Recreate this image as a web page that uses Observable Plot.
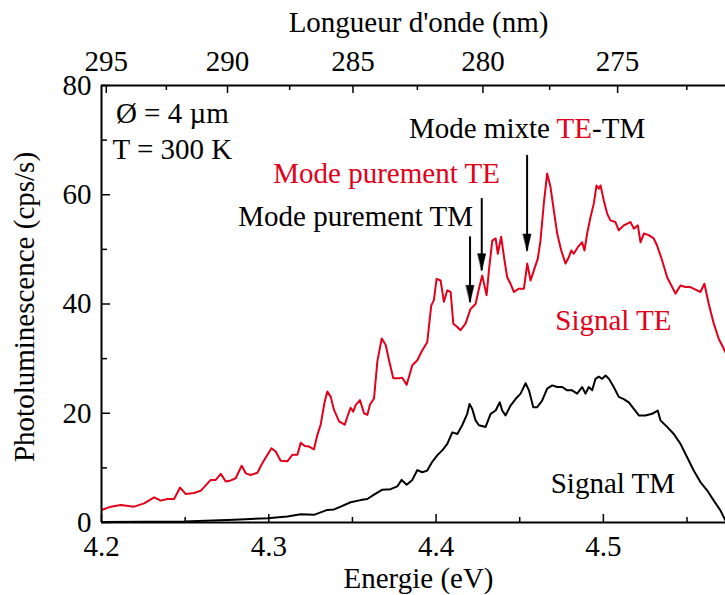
<!DOCTYPE html>
<html><head><meta charset="utf-8">
<script src="https://cdn.jsdelivr.net/npm/d3@7"></script>
<script src="https://cdn.jsdelivr.net/npm/@observablehq/plot@0.6"></script>
<style>body{margin:0;background:#fff}</style>
</head><body><div id="chart"></div>
<script>
// ---- data ----
const teEnergy = [4.2000,4.2056,4.2115,4.2195,4.2255,4.2315,4.2354,4.2394,4.2434,4.2470,4.2504,4.2554,4.2593,4.2653,4.2683,4.2713,4.2743,4.2773,4.2802,4.2838,4.2862,4.2892,4.2932,4.2962,4.2992,4.3016,4.3041,4.3071,4.3111,4.3141,4.3171,4.3191,4.3215,4.3241,4.3270,4.3290,4.3310,4.3334,4.3350,4.3370,4.3390,4.3420,4.3454,4.3470,4.3489,4.3505,4.3519,4.3545,4.3569,4.3589,4.3605,4.3629,4.3649,4.3675,4.3699,4.3718,4.3744,4.3778,4.3798,4.3824,4.3858,4.3888,4.3917,4.3947,4.3971,4.3987,4.4003,4.4027,4.4047,4.4067,4.4087,4.4103,4.4127,4.4146,4.4176,4.4206,4.4236,4.4256,4.4276,4.4302,4.4316,4.4336,4.4356,4.4369,4.4389,4.4409,4.4425,4.4445,4.4465,4.4495,4.4525,4.4545,4.4565,4.4585,4.4608,4.4624,4.4644,4.4664,4.4684,4.4704,4.4724,4.4748,4.4774,4.4794,4.4808,4.4823,4.4847,4.4873,4.4887,4.4903,4.4923,4.4943,4.4959,4.4973,4.4983,4.5003,4.5023,4.5042,4.5072,4.5092,4.5122,4.5162,4.5182,4.5206,4.5222,4.5242,4.5271,4.5301,4.5321,4.5351,4.5381,4.5411,4.5431,4.5461,4.5491,4.5520,4.5560,4.5580,4.5604,4.5630,4.5660,4.5690,4.5710,4.5729];
const teSignal = [2.3,2.9,3.2,2.9,3.5,4.6,4.0,4.3,4.3,6.4,5.2,5.4,5.8,7.8,7.8,8.9,7.5,7.7,8.1,10.4,9.0,8.7,9.1,10.9,12.4,13.6,13.0,11.3,11.2,12.4,12.4,14.6,14.0,13.9,13.4,16.0,17.9,22.1,24.0,23.0,20.6,18.5,17.9,19.4,21.0,20.3,21.5,22.4,20.0,19.7,21.6,22.7,29.5,33.7,32.5,29.8,26.4,26.4,26.5,25.2,28.8,29.7,31.5,33.0,39.7,40.7,44.6,44.3,40.4,42.5,42.2,36.4,35.8,35.2,36.4,39.1,40.0,42.8,45.2,41.6,46.2,51.6,52.0,49.2,52.3,48.0,44.9,43.7,42.2,42.8,42.8,47.4,44.3,46.2,48.3,51.6,58.4,63.9,61.4,57.1,52.9,49.8,47.4,48.6,49.8,49.2,50.4,51.3,49.8,52.9,55.9,58.4,61.7,61.1,61.7,58.9,56.5,55.3,55.0,53.5,54.4,55.0,53.8,54.4,51.3,52.9,52.6,52.0,50.7,48.0,44.9,43.1,41.9,43.4,43.1,43.1,42.5,42.2,43.7,40.0,36.4,33.6,32.4,31.2];
const tmEnergy = [4.2000,4.2494,4.2793,4.2992,4.3111,4.3191,4.3270,4.3350,4.3390,4.3430,4.3489,4.3549,4.3589,4.3629,4.3679,4.3728,4.3768,4.3794,4.3824,4.3858,4.3888,4.3917,4.3947,4.3977,4.4007,4.4037,4.4067,4.4097,4.4127,4.4156,4.4186,4.4200,4.4216,4.4236,4.4256,4.4296,4.4326,4.4356,4.4381,4.4395,4.4415,4.4445,4.4475,4.4505,4.4535,4.4555,4.4581,4.4604,4.4634,4.4664,4.4694,4.4724,4.4754,4.4784,4.4813,4.4843,4.4873,4.4893,4.4913,4.4933,4.4953,4.4973,4.4993,4.5013,4.5033,4.5062,4.5092,4.5122,4.5152,4.5182,4.5212,4.5252,4.5291,4.5325,4.5341,4.5381,4.5421,4.5461,4.5500,4.5540,4.5580,4.5620,4.5660,4.5700,4.5729];
const tmSignal = [0.1,0.2,0.5,0.8,1.1,1.5,1.4,2.3,2.4,2.9,3.7,4.1,4.3,5.1,6.0,6.1,6.6,7.8,6.9,7.8,9.6,9.2,9.5,11.1,12.3,13.2,14.4,16.5,16.2,17.8,19.9,21.7,20.8,18.7,17.8,17.5,19.9,20.5,22.0,20.5,19.6,21.4,22.6,23.6,25.5,24.2,21.1,21.1,22.3,24.5,25.1,24.8,24.8,24.2,24.2,23.6,24.8,23.6,24.8,24.2,26.3,26.7,26.3,26.9,26.3,24.8,23.0,22.6,22.0,20.8,19.6,19.6,19.9,20.5,18.7,17.5,16.2,14.4,12.0,9.5,7.4,5.9,4.0,2.2,0.4];

const xDomain = [4.2, 4.573];
const yDomain = [0, 80];
const xMajorTicks = [4.2, 4.3, 4.4, 4.5];
const xMinorTicks = [4.25, 4.35, 4.45, 4.55];
const yMajorTicks = [0, 20, 40, 60, 80];
const yMinorTicks = [10, 30, 50, 70];
const wavelengthMajor = [295, 290, 285, 280, 275];
const wavelengthMinor = [292.5, 287.5, 282.5, 277.5, 272.5];
const HC = 1239.84; // eV·nm

// annotations
const noteText = ["Ø = 4 µm", "T = 300 K", "Mode mixte TE-TM", "Mode purement TE", "Mode purement TM", "Signal TE", "Signal TM"];
const noteEnergy = [4.2086, 4.2066, 4.4544, 4.3704, 4.3519, 4.5060, 4.5057];
const noteValue = [73.2, 66.5, 70.3, 62.2, 54.3, 35.3, 5.4];
const noteColor = ["black", "black", "black", "red", "black", "red", "black"];
const noteAnchor = ["start", "start", "middle", "middle", "middle", "middle", "middle"];

const arrowEnergy = [4.4203, 4.4273, 4.4544];
const arrowFrom = [52.3, 59.3, 67.2];
const arrowTip = [40.3, 46.1, 49.7];

// ---- build ----
const RED = "#e2001a";
const FONT = "Liberation Serif, Times New Roman, serif";
const W = 725, H = 595, ML = 101, MR = 0, MT = 85, MB = 73;
const frameW = W - ML - MR, frameH = H - MT - MB;

const te = teEnergy.map((e, i) => ({e, v: teSignal[i]}));
const tm = tmEnergy.map((e, i) => ({e, v: tmSignal[i]}));
const notes = noteText.map((t, i) => ({t, e: noteEnergy[i], v: noteValue[i], c: noteColor[i] === "red" ? RED : "black", a: noteAnchor[i]}));
const notesStart = notes.filter(d => d.a === "start");
const notesMiddle = notes.filter(d => d.a === "middle");
const arrows = arrowEnergy.map((e, i) => ({e, y1: arrowFrom[i], y2: arrowTip[i]}));
const topMajorE = wavelengthMajor.map(l => HC / l);
const topMinorE = wavelengthMinor.map(l => HC / l);

const headShape = {
  draw(ctx, l) {
    ctx.moveTo(0, -l);
    ctx.lineTo(-4, 0);
    ctx.lineTo(4, 0);
    ctx.closePath();
  }
};

const chart = Plot.plot({
  width: W, height: H,
  marginLeft: ML, marginRight: MR, marginTop: MT, marginBottom: MB,
  style: {fontFamily: FONT, fontSize: "29px", background: "white", color: "black"},
  x: {domain: xDomain},
  y: {domain: yDomain},
  marks: [
    // curves
    Plot.line(te, {x: "e", y: "v", stroke: RED, strokeWidth: 2, clip: true}),
    Plot.line(tm, {x: "e", y: "v", stroke: "black", strokeWidth: 2, clip: true}),
    // spines
    Plot.ruleY(yDomain, {y: d => d, stroke: "black", strokeWidth: 2}),
    Plot.ruleX([xDomain[0]], {x: d => d, stroke: "black", strokeWidth: 2}),
    // inward ticks
    Plot.ruleX(xMajorTicks, {x: d => d, insetTop: frameH - 8, strokeWidth: 1.5}),
    Plot.ruleX(xMinorTicks, {x: d => d, insetTop: frameH - 5, strokeWidth: 1.5}),
    Plot.ruleX(topMajorE, {x: d => d, insetBottom: frameH - 8, strokeWidth: 1.5}),
    Plot.ruleX(topMinorE, {x: d => d, insetBottom: frameH - 5, strokeWidth: 1.5}),
    Plot.ruleY(yMajorTicks, {y: d => d, insetRight: frameW - 9, strokeWidth: 1.5}),
    Plot.ruleY(yMinorTicks, {y: d => d, insetRight: frameW - 6, strokeWidth: 1.5}),
    // tick labels
    Plot.axisX({anchor: "bottom", ticks: xMajorTicks, tickSize: 0, tickPadding: 13, tickFormat: d => d.toFixed(1), label: null, fontSize: 29}),
    Plot.axisX({anchor: "top", ticks: topMajorE, tickSize: 0, tickPadding: 15, tickFormat: d => String(Math.round(HC / d)), label: null, fontSize: 29}),
    Plot.axisY({anchor: "left", ticks: yMajorTicks, tickSize: 0, tickPadding: 10, tickFormat: d => String(d), label: null, fontSize: 29}),
    // axis titles
    Plot.text(["Energie (eV)"], {frameAnchor: "bottom", text: d => d, textAnchor: "middle", lineAnchor: "bottom", dy: 65, dx: 5, fontSize: 29}),
    Plot.text(["Longueur d'onde (nm)"], {frameAnchor: "top", text: d => d, textAnchor: "middle", lineAnchor: "bottom", dy: -54, dx: 5, fontSize: 29}),
    Plot.text(["Photoluminescence (cps/s)"], {frameAnchor: "left", text: d => d, rotate: -90, textAnchor: "middle", lineAnchor: "bottom", dx: -68, dy: 3, fontSize: 29}),
    // annotations
    Plot.text(notesStart, {x: "e", y: "v", text: "t", fill: d => d.c, textAnchor: "start", lineAnchor: "bottom", fontSize: 29}),
    Plot.text(notesMiddle, {x: "e", y: "v", text: "t", fill: d => d.c, textAnchor: "middle", lineAnchor: "bottom", fontSize: 29}),
    Plot.ruleX(arrows, {x: "e", y1: "y1", y2: "y2", stroke: "black", strokeWidth: 2}),
    Plot.vector(arrows, {x: "e", y: "y2", rotate: 180, anchor: "end", length: 17, shape: headShape, fill: "black", stroke: "black", strokeWidth: 0.5})
  ]
});

// colour "TE" in the mixed-mode label
chart.querySelectorAll("text").forEach(t => {
  if (t.textContent === "Mode mixte TE-TM") {
    const ns = "http://www.w3.org/2000/svg";
    const parts = [["Mode mixte ", "black"], ["TE", RED], ["-TM", "black"]];
    while (t.firstChild) t.removeChild(t.firstChild);
    for (const [s, c] of parts) {
      const sp = document.createElementNS(ns, "tspan");
      sp.textContent = s;
      sp.setAttribute("fill", c);
      t.appendChild(sp);
    }
  }
});

document.getElementById("chart").appendChild(chart);
</script>
</body></html>
